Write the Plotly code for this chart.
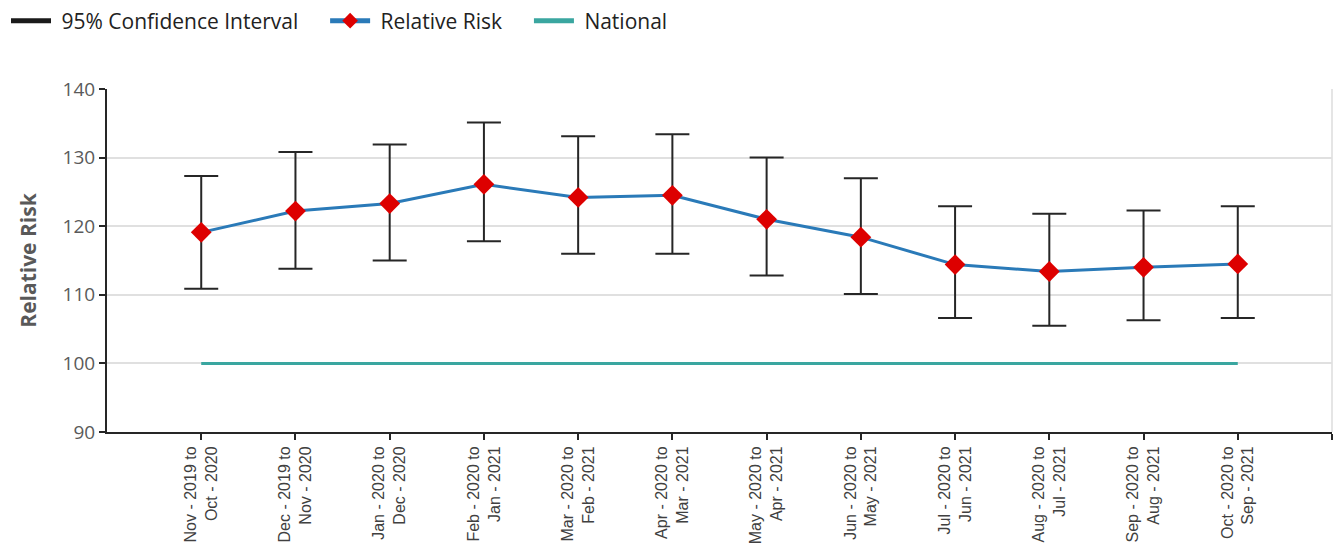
import plotly.graph_objects as go

# Rolling 12-month periods
period_start = ["Nov-2019", "Dec-2019", "Jan-2020", "Feb-2020", "Mar-2020", "Apr-2020",
                "May-2020", "Jun-2020", "Jul-2020", "Aug-2020", "Sep-2020", "Oct-2020"]
period_end = ["Oct-2020", "Nov-2020", "Dec-2020", "Jan-2021", "Feb-2021", "Mar-2021",
              "Apr-2021", "May-2021", "Jun-2021", "Jul-2021", "Aug-2021", "Sep-2021"]

relative_risk = [119.1, 122.2, 123.3, 126.1, 124.2, 124.5, 121.0, 118.4, 114.4, 113.4, 114.0, 114.5]
ci_upper = [127.3, 130.8, 131.9, 135.1, 133.1, 133.4, 130.0, 127.0, 122.9, 121.8, 122.3, 122.9]
ci_lower = [110.9, 113.8, 115.0, 117.8, 116.0, 116.0, 112.8, 110.1, 106.6, 105.5, 106.3, 106.6]
national = [100] * 12

y_ticks = [90, 100, 110, 120, 130, 140]

labels = [f"{s.replace('-', ' - ')} to<br>{e.replace('-', ' - ')}" for s, e in zip(period_start, period_end)]
x = list(range(len(labels)))

# spacing around each legend label
lead = "\u00a0"
pad = "\u00a0" * 4

fig = go.Figure()

# Legend entry for the confidence interval whiskers
fig.add_trace(go.Scatter(
    x=[None], y=[None], mode="lines", name=lead + "95% Confidence Interval" + pad,
    line=dict(color="#1a1a1a", width=3),
))

fig.add_trace(go.Scatter(
    x=x, y=relative_risk, mode="lines+markers", name=lead + "Relative Risk" + pad,
    line=dict(color="#2a7ab8", width=3),
    marker=dict(symbol="diamond", size=16, color="#dd0000"),
    error_y=dict(
        type="data", symmetric=False,
        array=[u - r for u, r in zip(ci_upper, relative_risk)],
        arrayminus=[r - l for r, l in zip(relative_risk, ci_lower)],
        color="#262626", thickness=2, width=17,
    ),
))

fig.add_trace(go.Scatter(
    x=x, y=national, mode="lines", name=lead + "National",
    line=dict(color="#3aa6a0", width=3),
))

# light border on the right side of the plot area
fig.add_shape(type="line", xref="paper", yref="paper", x0=1, x1=1, y0=0, y1=1,
              line=dict(color="#dcdcdc", width=1.5), layer="below")

fig.update_layout(
    width=1340, height=560,
    margin=dict(l=107, r=8, t=89, b=128),
    paper_bgcolor="white", plot_bgcolor="white",
    showlegend=True,
    legend=dict(
        orientation="h", x=6 / 1340, y=1 - 21 / 560, xanchor="left", yanchor="middle",
        xref="container", yref="container",
        font=dict(family="Open Sans, Noto Sans, sans-serif", size=21, color="#222222"),
        itemwidth=40, tracegroupgap=0, itemsizing="constant",
    ),
    xaxis=dict(
        range=[-1, 12],
        tickmode="array", tickvals=x + [12], ticktext=labels + [""],
        tickangle=-90,
        tickfont=dict(family="Liberation Sans, Arial, sans-serif", size=16, color="#404040"),
        showgrid=False, zeroline=False,
        showline=True, linecolor="#262626", linewidth=2,
        ticks="outside", ticklen=6, tickcolor="#262626", tickwidth=2,
    ),
    yaxis=dict(
        range=[90, 140],
        tickvals=y_ticks,
        tickfont=dict(family="Open Sans, Noto Sans, sans-serif", size=19, color="#5a5a5a"),
        showgrid=True, gridcolor="#e0e0e0", gridwidth=1.5,
        zeroline=False,
        showline=True, linecolor="#262626", linewidth=2,
        ticks="outside", ticklen=6, tickcolor="#262626", tickwidth=2,
        title=dict(text="<b>Relative Risk</b>", standoff=20,
                   font=dict(family="Open Sans, Noto Sans, sans-serif", size=21, color="#595959")),
    ),
)

fig.write_html("out.html")
